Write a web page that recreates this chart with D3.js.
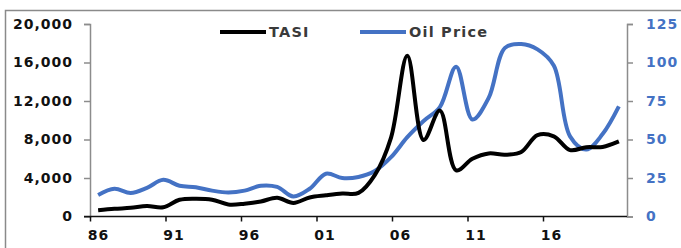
<!DOCTYPE html>
<html>
<head>
<meta charset="utf-8">
<script src="https://cdn.jsdelivr.net/npm/d3@7"></script>
<style>
  body { margin: 0; background: #fff; }
  svg { display: block; font-family: "DejaVu Sans", Verdana, sans-serif; }
</style>
</head>
<body>
<svg width="681" height="248"></svg>
<script>
// the data
let years = d3.range(1986, 2019);
let tasi = [650, 800, 900, 1090, 960, 1740, 1850, 1750, 1250, 1330, 1560, 1950, 1410, 1980, 2200, 2380, 2450,
    4300, 8200, 16700, 7950, 11000, 4800, 6000, 6550, 6420, 6700, 8450, 8330, 6900, 7200, 7230, 7800];
let oil = [14, 18, 15.3, 18.6, 23.8, 20, 19, 16.8, 15.6, 16.8, 20, 19.2, 13, 18, 27.8, 25, 25.7,
    29.5, 38.5, 51.5, 62, 71, 97.3, 63, 77, 109.5, 112, 108.5, 98, 52, 43.5, 53.5, 71.5];
let tickYears = [1986, 1991, 1996, 2001, 2006, 2011, 2016];
let leftTicks = [0, 4000, 8000, 12000, 16000, 20000];
let rightTicks = [0, 25, 50, 75, 100, 125];
let seriesNames = ["TASI", "Oil Price"];

let svg = d3.select("svg");
let blue = "#4472C4";
let axisGray = "#8c8c8c";

// plot area edges
let plotLeft = 90, plotRight = 627, plotTop = 24, plotBottom = 216.5;

// outer frame
svg.append("rect")
    .attr("x", 5.5).attr("y", 10.5)
    .attr("width", 720).attr("height", 300)
    .attr("fill", "none")
    .attr("stroke", "#8a8a8a")
    .attr("stroke-width", 1.5);

// scales
let x = d3.scaleBand().domain(years).range([plotLeft, plotRight]);
let xTick = d3.scaleLinear().domain([1986, 2016]).range([plotLeft, 543]);
let yLeft = d3.scaleLinear().domain([0, 20000]).range([plotBottom, plotTop]);
let yRight = d3.scaleLinear().domain([0, 125]).range([plotBottom, plotTop]);

// left axis
let gl = svg.append("g")
    .attr("transform", `translate(${plotLeft},0)`)
    .call(d3.axisLeft(yLeft).tickValues(leftTicks).tickSize(6).tickPadding(11)
        .tickFormat(d3.format(",")));
gl.select(".domain").attr("stroke", axisGray).attr("stroke-width", 1.5);
gl.selectAll(".tick line").attr("stroke", axisGray).attr("stroke-width", 1.5);
gl.selectAll("text").attr("font-size", 14).attr("font-weight", "bold").attr("fill", "#111")
    .attr("font-family", "DejaVu Sans, sans-serif")
    .attr("letter-spacing", 1);

// right axis
let gr = svg.append("g")
    .attr("transform", `translate(${plotRight},0)`)
    .call(d3.axisRight(yRight).tickValues(rightTicks).tickSize(6).tickPadding(13));
gr.select(".domain").attr("stroke", axisGray).attr("stroke-width", 1.5);
gr.selectAll(".tick line").attr("stroke", axisGray).attr("stroke-width", 1.5);
gr.selectAll("text").attr("font-size", 14).attr("font-weight", "bold").attr("fill", blue)
    .attr("font-family", "DejaVu Sans, sans-serif")
    .attr("letter-spacing", 1);

// bottom axis
let gb = svg.append("g")
    .attr("transform", `translate(0,${plotBottom})`)
    .call(d3.axisBottom(xTick).tickValues(tickYears).tickSize(5).tickPadding(9)
        .tickFormat(d => String(d).slice(2)));
gb.select(".domain").remove();
gb.append("line").attr("x1", plotLeft - 6).attr("x2", plotRight).attr("stroke", "#111").attr("stroke-width", 1.5);
gb.selectAll(".tick line").attr("stroke", "#111").attr("stroke-width", 1.5);
gb.selectAll("text").attr("font-size", 14).attr("font-weight", "bold").attr("fill", "#111")
    .attr("font-family", "DejaVu Sans, sans-serif")
    .attr("letter-spacing", 1)
    .attr("dx", 8);

// lines
let curve = d3.curveCatmullRom.alpha(0.5);
let xc = d => x(d) + x.bandwidth() / 2;

let oilLine = d3.line()
    .x((d, i) => xc(years[i]))
    .y(d => yRight(d))
    .curve(curve);
let tasiLine = d3.line()
    .x((d, i) => xc(years[i]))
    .y(d => yLeft(d))
    .curve(curve);

svg.append("path")
    .datum(oil)
    .attr("d", oilLine)
    .attr("fill", "none")
    .attr("stroke", blue)
    .attr("stroke-width", 4)
    .attr("stroke-linejoin", "round");

svg.append("path")
    .datum(tasi)
    .attr("d", tasiLine)
    .attr("fill", "none")
    .attr("stroke", "#000")
    .attr("stroke-width", 4)
    .attr("stroke-linejoin", "round");

// legend
let legend = svg.append("g").attr("class", "legend");
let legendItems = [
    { name: seriesNames[0], color: "#000", x: 220 },
    { name: seriesNames[1], color: blue, x: 360 }
];
legendItems.forEach(function (d) {
    legend.append("line")
        .attr("x1", d.x).attr("x2", d.x + 46)
        .attr("y1", 32).attr("y2", 32)
        .attr("stroke", d.color)
        .attr("stroke-width", 4);
    legend.append("text")
        .attr("x", d.x + 49).attr("y", 37)
        .attr("font-size", 14.5).attr("font-weight", "bold")
        .attr("letter-spacing", 1.2)
        .attr("fill", "#3a3a3a")
        .text(d.name);
});
</script>
</body>
</html>
